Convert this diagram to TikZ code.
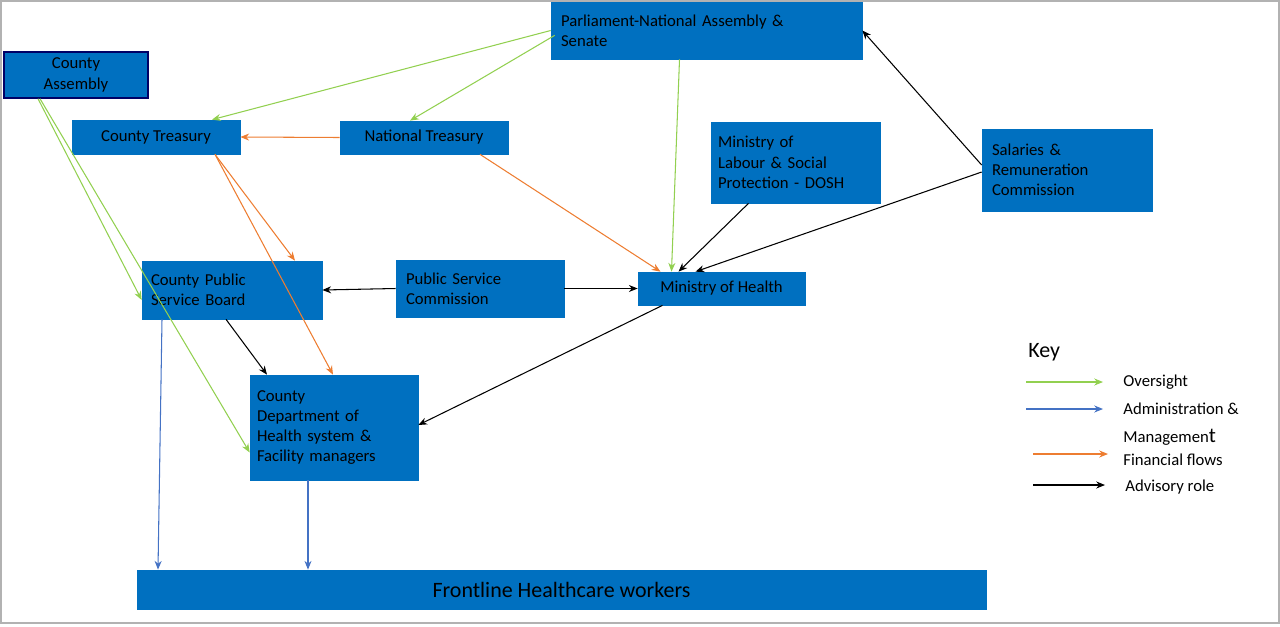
\documentclass[tikz,border=0pt]{standalone}
\usepackage{fontspec}
\setmainfont{Carlito}
\usetikzlibrary{arrows.meta,calc}
\definecolor{bx}{HTML}{0070C0}
\definecolor{gr}{HTML}{92D050}
\definecolor{og}{HTML}{ED7D31}
\definecolor{bl}{HTML}{4472C4}
\begin{document}
\begin{tikzpicture}[x=0.02cm,y=-0.02cm,
 box/.style={fill=bx,draw=bx,inner sep=0pt,font=\fontsize{9.5}{11.5}\selectfont,text=black},
 lbox/.style={box,align=left},
 ar/.style={line width=0.6pt,-{Stealth[length=5pt,width=4pt]}},
 g/.style={ar,draw=gr},o/.style={ar,draw=og},k/.style={ar,draw=black},b/.style={ar,draw=bl},
 kt/.style={anchor=west,inner sep=0pt,font=\fontsize{9.5}{11.5}\selectfont}]
\useasboundingbox (0,0) rectangle (1280,626);
\draw[gray!60,line width=0.6pt] (1,1) rectangle (1279,623);
\node[lbox,minimum width=6.22cm,minimum height=1.14cm,text width=5.82cm] (parl) at (706.5,30.5) {Parliament-National Assembly \&\\Senate};
\node[box,draw=blue!40!black,line width=0.8pt,minimum width=2.88cm,minimum height=0.92cm,align=center] (ca) at (76,75) {County\\Assembly};
\node[box,minimum width=3.36cm,minimum height=0.68cm] (ct) at (156,137) {County Treasury};
\node[box,minimum width=3.36cm,minimum height=0.66cm] (nt) at (424,137.5) {National Treasury};
\node[lbox,minimum width=3.38cm,minimum height=1.62cm,text width=3.1cm] (mol) at (795.5,162.5) {Ministry of\\Labour \& Social\\Protection - DOSH};
\node[lbox,minimum width=3.4cm,minimum height=1.64cm,text width=3.0cm] (src) at (1067,170) {Salaries \&\\Remuneration\\Commission};
\node[lbox,minimum width=3.6cm,minimum height=1.16cm,text width=3.24cm] (cpsb) at (232,290) {County Public\\Service Board};
\node[lbox,minimum width=3.36cm,minimum height=1.14cm,text width=2.96cm] (psc) at (480,288.5) {Public Service\\Commission};
\node[box,minimum width=3.34cm,minimum height=0.66cm] (moh) at (721.5,288.5) {Ministry of Health};
\node[lbox,minimum width=3.36cm,minimum height=2.1cm,text width=3.08cm] (cd) at (334,427.5) {County\\Department of\\Health system \&\\Facility managers};
\node[box,minimum width=16.98cm,minimum height=0.78cm,font=\fontsize{12.5}{14}\selectfont] (fl) at (561.5,589.5) {Frontline Healthcare workers};
% green
\draw[g] (parl.west) -- ($(ct.north)+(56,0)$);
\draw[g] ($(parl.south west)+(4,-24)$) -- ($(nt.north)+(-14,0)$);
\draw[g] ($(parl.south)+(-27,0)$) -- ($(moh.north)+(-50,0)$);
\draw[g] ($(ca.south)+(-38,0)$) -- ($(cpsb.west)+(0,10)$);
\draw[g] ($(ca.south)+(-36,0)$) -- ($(cd.west)+(0,25)$);
% orange
\draw[o] (nt.west) -- (ct.east);
\draw[o] ($(nt.south)+(56,0)$) -- ($(moh.north)+(-61,0)$);
\draw[o] ($(ct.south)+(59,0)$) -- ($(cpsb.north)+(63,0)$);
\draw[o] ($(ct.south)+(59,0)$) -- ($(cd.north)+(-1,0)$);
% black
\draw[k] ($(src.west)+(0,-5)$) -- (parl.east);
\draw[k] ($(src.west)+(0,2)$) -- ($(moh.north)+(-26,0)$);
\draw[k] ($(mol.south)+(-47,0)$) -- ($(moh.north)+(-43,0)$);
\draw[k] (psc.west) -- (cpsb.east);
\draw[k] (psc.east) -- (moh.west);
\draw[k] ($(cpsb.south)+(-6,0)$) -- ($(cd.north)+(-67,0)$);
\draw[k] ($(moh.south)+(-59,0)$) -- ($(cd.east)+(0,-2.5)$);
% blue
\draw[b] ($(cpsb.south)+(-70,0)$) -- ($(fl.north)+(-403.5,0)$);
\draw[b] ($(cd.south)+(-26,0)$) -- ($(fl.north)+(-253.5,0)$);
% key
\node[kt,font=\fontsize{12.5}{14}\selectfont] (key) at (1028,352) {Key};
\coordinate (g1) at (1026,382); \coordinate (g2) at (1103,382);
\coordinate (b1) at (1026,409); \coordinate (b2) at (1103,409);
\coordinate (o1) at (1033,454); \coordinate (o2) at (1108,454);
\coordinate (k1) at (1033,485); \coordinate (k2) at (1105,485);
\draw[g] (g1) -- (g2); \draw[b] (b1) -- (b2); \draw[o] (o1) -- (o2); \draw[k] (k1) -- (k2);
\node[kt] (l1) at (1123,382) {Oversight};
\node[kt] (l2) at (1123,409) {Administration \&};
\node[kt] (l3) at (1123,437) {Managemen{\fontsize{12}{14}\selectfont t}};
\node[kt] (l4) at (1123,460) {Financial flows};
\node[kt] (l5) at (1125,487) {Advisory role};
\end{tikzpicture}
\end{document}
